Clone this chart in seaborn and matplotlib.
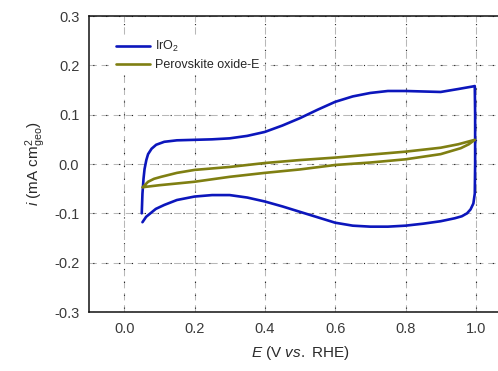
import matplotlib
matplotlib.use("Agg")
import matplotlib.pyplot as plt
import seaborn as sns
import pandas as pd

# ---- data ----
iro2_E = [0.050, 0.052, 0.055, 0.058, 0.063, 0.068, 0.078, 0.091, 0.114, 0.150,
          0.200, 0.250, 0.300, 0.350, 0.400, 0.450, 0.500, 0.550, 0.600, 0.650,
          0.700, 0.750, 0.800, 0.850, 0.900, 0.950, 0.990, 0.997,
          0.998, 0.998, 0.997, 0.993, 0.985, 0.975, 0.960, 0.940, 0.900, 0.850,
          0.800, 0.750, 0.700, 0.650, 0.600, 0.550, 0.500, 0.450, 0.400, 0.350,
          0.300, 0.250, 0.200, 0.150, 0.114, 0.090, 0.0625, 0.052]
iro2_i = [-0.100, -0.060, -0.030, -0.010, 0.008, 0.020, 0.031, 0.039, 0.045, 0.048,
          0.049, 0.050, 0.052, 0.057, 0.065, 0.078, 0.093, 0.110, 0.126, 0.137,
          0.144, 0.148, 0.148, 0.147, 0.146, 0.152, 0.157, 0.158,
          0.100, 0.000, -0.060, -0.080, -0.092, -0.100, -0.106, -0.110, -0.116, -0.121,
          -0.125, -0.127, -0.127, -0.125, -0.119, -0.108, -0.097, -0.086, -0.076, -0.068,
          -0.063, -0.063, -0.066, -0.073, -0.083, -0.091, -0.107, -0.118]

perov_E = [0.053, 0.068, 0.085, 0.105, 0.150, 0.200, 0.300, 0.400, 0.500, 0.600,
           0.700, 0.800, 0.900, 0.950, 0.997,
           0.980, 0.957, 0.900, 0.800, 0.700, 0.600, 0.500, 0.400, 0.300, 0.200,
           0.100, 0.053]
perov_i = [-0.047, -0.036, -0.030, -0.026, -0.018, -0.012, -0.006, 0.002, 0.008, 0.013,
           0.019, 0.025, 0.033, 0.040, 0.049,
           0.040, 0.032, 0.020, 0.0095, 0.003, -0.002, -0.011, -0.018, -0.026, -0.036,
           -0.043, -0.047]

series_names = ["IrO$_2$", "Perovskite oxide-E"]
colors = ["#0c16bc", "#7f7f12"]
x_ticks = [0.0, 0.2, 0.4, 0.6, 0.8, 1.0]
y_ticks = [-0.3, -0.2, -0.1, 0.0, 0.1, 0.2, 0.3]

df = pd.concat([
    pd.DataFrame({"E": iro2_E, "i": iro2_i, "s": series_names[0]}),
    pd.DataFrame({"E": perov_E, "i": perov_i, "s": series_names[1]}),
])

sns.set_style("white")
plt.rcParams["font.family"] = ["Liberation Sans", "DejaVu Sans"]
plt.rcParams["mathtext.fontset"] = "custom"
plt.rcParams["mathtext.rm"] = "Liberation Sans"
plt.rcParams["mathtext.it"] = "Liberation Sans:italic"
plt.rcParams["axes.unicode_minus"] = False

fig = plt.figure(figsize=(4.98, 3.71), dpi=100)
ax = fig.add_axes([89 / 498, 59 / 371, 422 / 498, 296 / 371])

for name, c in zip(series_names, colors):
    sub = df[df["s"] == name]
    sns.lineplot(data=sub, x="E", y="i", sort=False, estimator=None, color=c,
                 linewidth=1.9, ax=ax, zorder=3, label=name)

ax.set_xlim(-0.1, 1.1)
ax.set_ylim(-0.3, 0.3)
ax.set_xticks(x_ticks)
ax.set_yticks(y_ticks)
ax.set_xticklabels([f"{v:.1f}" for v in x_ticks])
ax.set_yticklabels([f"{v:.1f}" for v in y_ticks])
ax.tick_params(length=0, labelsize=10.5, labelcolor="#3a3a3a", pad=7)

for v in x_ticks:
    ax.axvline(v, color="#b8b8b8", lw=0.75, ls=(0, (7.0, 4.6)), zorder=1)
    ax.axvline(v, color="#222222", lw=0.8, ls=(8.2, (1.0, 10.6)), zorder=1)
for v in y_ticks:
    ax.axhline(v, color="#b8b8b8", lw=0.75, ls=(0, (7.0, 4.6)), zorder=1)
    ax.axhline(v, color="#222222", lw=0.8, ls=(8.2, (1.0, 10.6)), zorder=1)

for sp in ["left", "bottom", "top", "right"]:
    ax.spines[sp].set_color("#111111")
    ax.spines[sp].set_linewidth(1.1)

ax.set_xlabel("$E$ (V $vs.$ RHE)", fontsize=11, color="#2a2a2a", labelpad=6)
ax.set_ylabel("$i$ (mA cm$^{2}_{\\mathrm{geo}}$)", fontsize=11, color="#2a2a2a", labelpad=4)

leg = ax.legend(loc="upper left", bbox_to_anchor=(0.04, 0.955), frameon=True,
                fontsize=9, handlelength=2.7, handletextpad=0.4, labelspacing=0.4,
                borderpad=0.3, fancybox=False, framealpha=1.0)
leg.get_frame().set_facecolor("white")
leg.get_frame().set_edgecolor("none")
leg.set_zorder(5)

fig.savefig("out.png", dpi=100)
